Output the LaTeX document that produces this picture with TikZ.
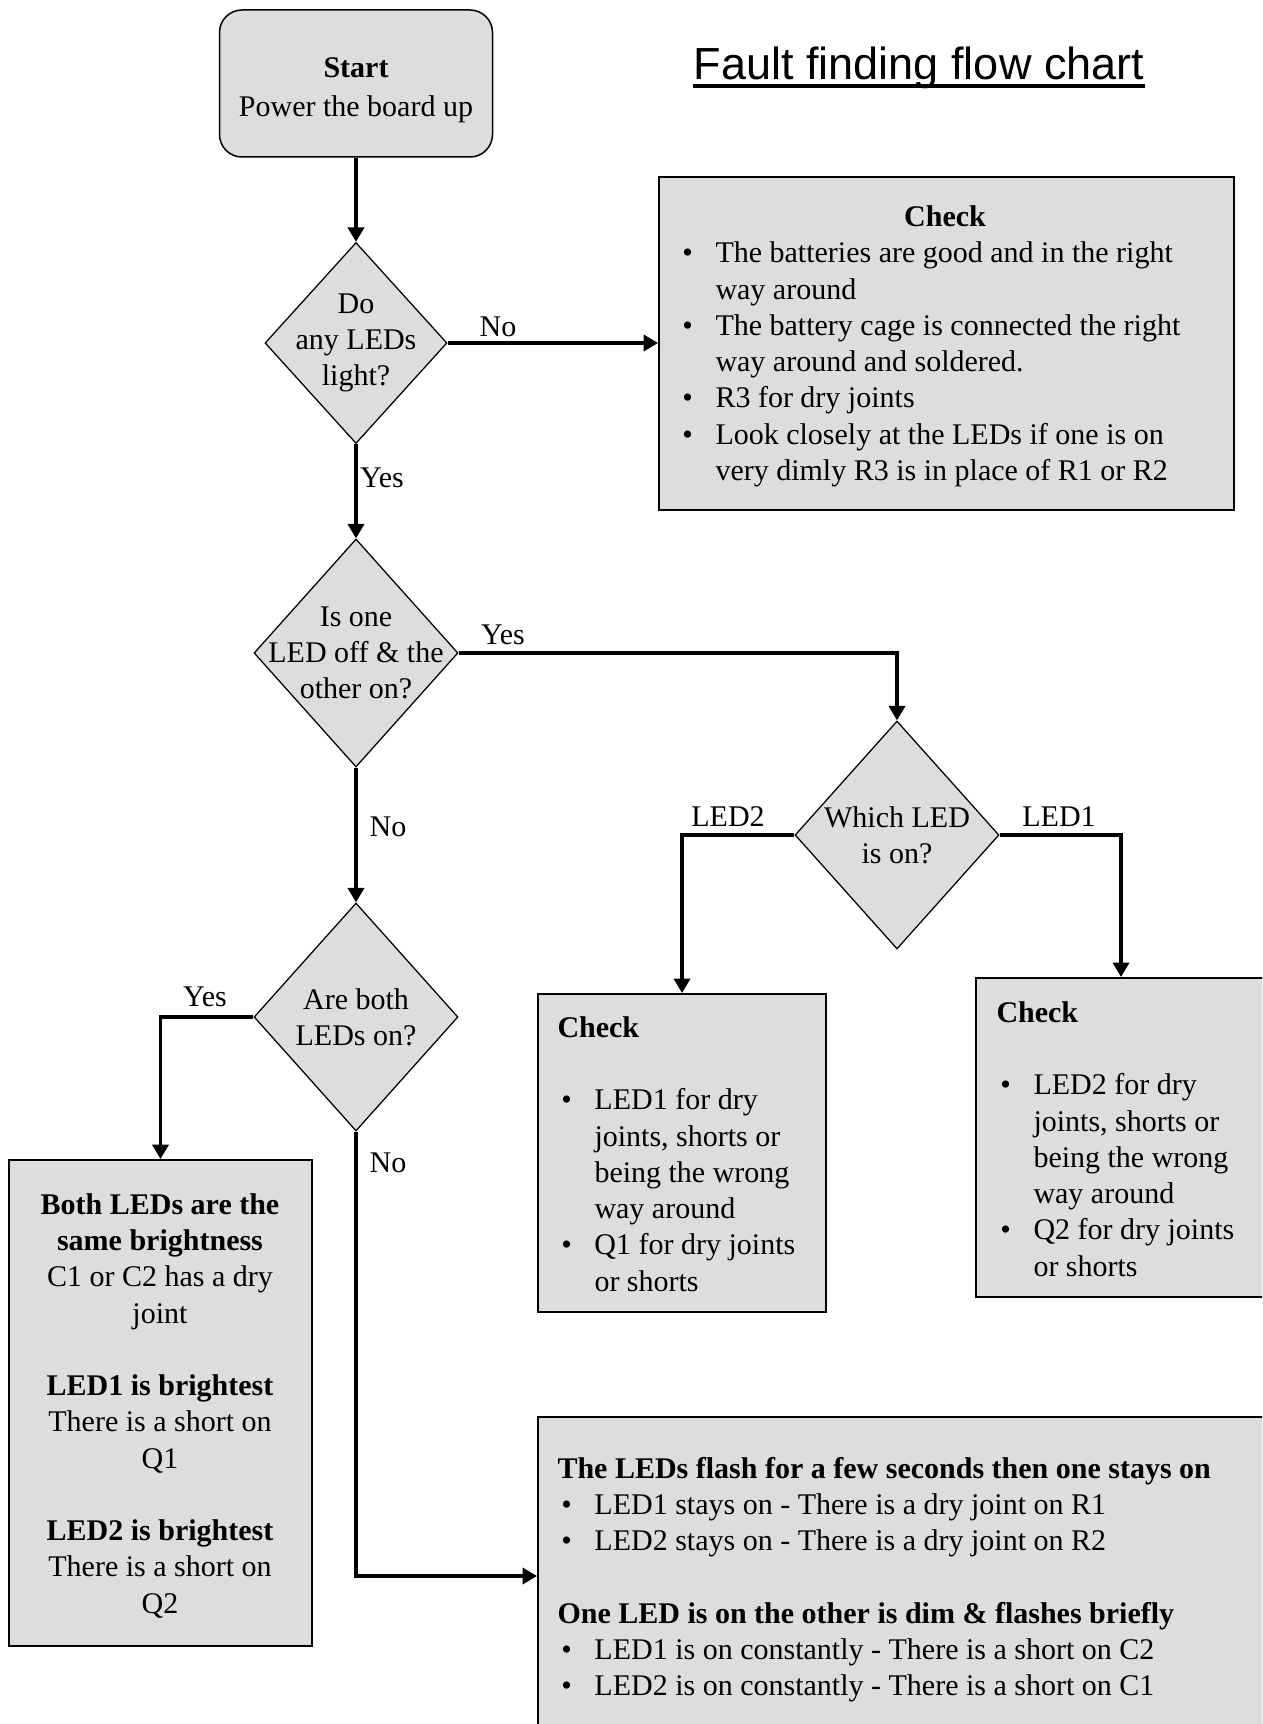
\documentclass[tikz,border=0pt]{standalone}
\usepackage{fontspec}
\setmainfont{Liberation Serif}
\newfontfamily\titlefont{Liberation Sans}
\usetikzlibrary{shapes.geometric,arrows.meta,calc}
\definecolor{boxgray}{HTML}{DDDDDD}
\newcommand{\bodyfont}{\fontsize{12pt}{14.5pt}\selectfont}
\newcommand{\bul}{\makebox[14.8pt][l]{\hspace{1.5pt}\textbullet}}% bullet
\newcommand{\cont}{\makebox[14.8pt]{}}% hanging indent
\tikzstyle{startbox} = [
    draw,
    fill=boxgray,
    line width=0.6pt,
    rounded corners=9pt,
    minimum width=109.2pt,
    minimum height=58.8pt,
    inner sep=0pt
    ]
\tikzstyle{decision} = [
    diamond,
    draw,
    fill=boxgray,
    line width=0.5pt,
    inner sep=0pt,
    minimum width=81.6pt,
    minimum height=91.2pt
    ]
\tikzstyle{checkbox} = [
    draw,
    fill=boxgray,
    line width=0.8pt,
    rectangle,
    inner sep=0pt,
    anchor=north west
    ]
% text blocks sit on the baseline of their last line
\tikzstyle{boxtext} = [
    align=left,
    anchor=base west,
    inner sep=0pt
    ]
\tikzstyle{answer} = [inner sep=0pt]
\tikzstyle{flowline} = [
    line width=1.3pt,
    -{Triangle[width=6.5pt,length=5.8pt]}
    ]

\begin{document}
\begin{tikzpicture}[x=0.4pt, y=-0.4pt, every node/.style={font=\bodyfont}]
\useasboundingbox (0,0) rectangle (1262,1724);
\clip (0,0) rectangle (1262,1724);

% title
\node[inner sep=0pt, anchor=base, font=\titlefont\fontsize{18pt}{20pt}\selectfont] (title) at (919,80) {Fault finding flow chart};
\draw[line width=1.3pt] ($(title.base west)+(0,6)$) -- ($(title.base east)+(0,6)$);

% start
\node[startbox] (start) at (356,83.5) {};
\node[align=center, anchor=base, inner sep=0pt, font=\fontsize{12pt}{15.6pt}\selectfont] (starttext) at (356,117) {\textbf{Start}\\Power the board up};

% questions
\node[decision, minimum width=72.8pt, minimum height=80.4pt] (anyled) at (356,343) {};
\node[align=center, inner sep=0pt] (anyledtext) at (anyled) {Do\\any LEDs\\light?};
\node[decision] (oneoff) at (356,653) {};
\node[align=center, inner sep=0pt] (oneofftext) at (oneoff) {Is one\\LED off \& the\\other on?};
\node[decision] (bothon) at (356,1017) {};
\node[align=center, inner sep=0pt] (bothontext) at (bothon) {Are both\\LEDs on?};
\node[decision] (which) at (897,835) {};
\node[align=center, inner sep=0pt] (whichtext) at (which) {Which LED\\is on?};

% boxes
\node[checkbox, minimum width=230pt, minimum height=133.2pt] (chkpower) at (658,176) {};
\node[anchor=base, inner sep=0pt] (chkpowerhead) at (945,227) {\textbf{Check}};
\node[boxtext] (chkpowertext) at (678,480.5) {%
    \bul The batteries are good and in the right\\
    \cont way around\\
    \bul The battery cage is connected the right\\
    \cont way around and soldered.\\
    \bul R3 for dry joints\\
    \bul Look closely at the LEDs if one is on\\
    \cont very dimly R3 is in place of R1 or R2};

\node[checkbox, minimum width=115.2pt, minimum height=127.2pt] (chkled1) at (537,993) {};
\node[boxtext] (chkled1text) at (557,1291) {%
    \textbf{Check}\\[14.5pt]
    \bul LED1 for dry\\
    \cont joints, shorts or\\
    \cont being the wrong\\
    \cont way around\\
    \bul Q1 for dry joints\\
    \cont or shorts};

\node[checkbox, minimum width=116pt, minimum height=127.6pt] (chkled2) at (975,977) {};
\node[boxtext] (chkled2text) at (996,1276) {%
    \textbf{Check}\\[14.5pt]
    \bul LED2 for dry\\
    \cont joints, shorts or\\
    \cont being the wrong\\
    \cont way around\\
    \bul Q2 for dry joints\\
    \cont or shorts};

\node[checkbox, minimum width=121.2pt, minimum height=194.4pt] (brightbox) at (8,1159) {};
\node[align=center, anchor=base, inner sep=0pt] (brighttext) at (160,1613) {%
    \textbf{Both LEDs are the}\\
    \textbf{same brightness}\\
    C1 or C2 has a dry\\
    joint\\[14.5pt]
    \textbf{LED1 is brightest}\\
    There is a short on\\
    Q1\\[14.5pt]
    \textbf{LED2 is brightest}\\
    There is a short on\\
    Q2};

\node[checkbox, minimum width=304pt, minimum height=127.2pt] (flashbox) at (537,1416) {};
\node[boxtext] (flashtext) at (557,1695.5) {%
    \textbf{The LEDs flash for a few seconds then one stays on}\\
    \bul LED1 stays on - There is a dry joint on R1\\
    \bul LED2 stays on - There is a dry joint on R2\\[14.5pt]
    \textbf{One LED is on the other is dim \& flashes briefly}\\
    \bul LED1 is on constantly - There is a short on C2\\
    \bul LED2 is on constantly - There is a short on C1};

% connectors
\draw[flowline] (start) -- (anyled);
\draw[flowline] (anyled.east) -- (anyled.east -| chkpower.west);
\draw[flowline] (anyled) -- (oneoff);
\draw[flowline] (oneoff.east) -| (which.north);
\draw[flowline] (oneoff) -- (bothon);
\draw[flowline] (which.west) -| (chkled1.north);
\draw[flowline] (which.east) -| (chkled2.north);
\draw[flowline] (bothon.west) -| (brightbox.north);
\draw[flowline] (bothon.south) |- (flashbox.west);

% answers
\node[answer] (no1) at (498,327) {No};
\node[answer] (yes1) at (382,478) {Yes};
\node[answer] (yes2) at (503,635) {Yes};
\node[answer] (no2) at (388,827) {No};
\node[answer] (led2lbl) at (728,817) {LED2};
\node[answer] (led1lbl) at (1059,817) {LED1};
\node[answer] (yes3) at (205,997) {Yes};
\node[answer] (no3) at (388,1163) {No};
\end{tikzpicture}
\end{document}
